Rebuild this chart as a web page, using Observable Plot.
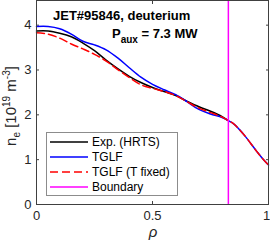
<!DOCTYPE html>
<html>
<head>
<meta charset="utf-8">
<script src="https://cdn.jsdelivr.net/npm/d3@7"></script>
<script src="https://cdn.jsdelivr.net/npm/@observablehq/plot@0.6"></script>
<style>
  html, body { margin: 0; padding: 0; background: #fff; }
  #wrap { position: relative; width: 270px; height: 240px; font-family: "Liberation Sans", Arial, sans-serif; overflow: hidden; }
  .abs { position: absolute; white-space: nowrap; }
  .title { font-weight: bold; font-size: 13px; color: #000; line-height: 1; }
  #legend { position: absolute; left: 46px; top: 132px; width: 130px; height: 62px; border: 1px solid #8c8c8c; background: #fff; }
  .row { position: absolute; left: 3px; height: 15px; display: flex; align-items: center; font-size: 12px; color: #000; }
  .row svg { margin-right: 4px; }
  #ylab { font-size: 15px; color: #262626; transform: translate(-50%, -50%) rotate(-90deg); line-height: 1; }
  #ylab sub, #ylab sup { font-size: 10px; line-height: 0; }
  #xlab { font-size: 15px; font-style: italic; color: #262626; transform: translate(-50%, -50%); line-height: 1; }
</style>
</head>
<body>
<div id="wrap"></div>
<script>
// ---- data ----
const rho      = [0, 0.05, 0.1, 0.15, 0.2, 0.25, 0.3, 0.35, 0.4, 0.45, 0.5, 0.55, 0.6, 0.65, 0.7, 0.75, 0.8, 0.827];
const expHRTS  = [3.87, 3.87, 3.82, 3.74, 3.60, 3.43, 3.22, 3.03, 2.86, 2.72, 2.61, 2.52, 2.43, 2.30, 2.18, 2.08, 1.96, 1.87];
const tglf     = [3.97, 3.97, 3.92, 3.80, 3.64, 3.56, 3.45, 3.27, 3.05, 2.84, 2.68, 2.56, 2.45, 2.29, 2.12, 2.02, 1.94, 1.87];
const tglfFix  = [3.83, 3.80, 3.71, 3.58, 3.47, 3.35, 3.20, 3.01, 2.83, 2.67, 2.59, 2.52, 2.43, 2.29, 2.15, 2.05, 1.95, 1.87];
const rhoEdge  = [0.85, 0.875, 0.9, 0.925, 0.95, 0.975, 1.0];
const neEdge   = [1.80, 1.67, 1.52, 1.35, 1.18, 1.02, 0.88];
const boundary = 0.827;
const xTicks = [0, 0.5, 1];
const yTicks = [0, 1, 2, 3, 4];
const seriesNames = ["Exp. (HRTS)", "TGLF", "TGLF (T fixed)", "Boundary"];
const seriesColors = ["#000000", "#0000ff", "#ff0000", "#ff00ff"];

const core = (vals) => rho.map((r, i) => ({rho: r, ne: vals[i]}));
const edge = rhoEdge.map((r, i) => ({rho: r, ne: neEdge[i]}));
const expRows = core(expHRTS);
const tglfRows = core(tglf).concat(edge);
const fixRows = core(tglfFix).concat(edge);

const axisColor = "#404040";
const chart = Plot.plot({
  width: 270,
  height: 240,
  marginLeft: 36,
  marginRight: 2,
  marginTop: 0,
  marginBottom: 36,
  x: {domain: [0, 1]},
  y: {domain: [0, 4.55]},
  style: {fontFamily: "Liberation Sans, Arial, sans-serif", fontSize: "13px", color: "#262626", background: "#fff"},
  marks: [
    Plot.axisX({ticks: xTicks.slice(0, 2), tickSize: 0, tickPadding: 6, tickFormat: d => String(d), label: null, fontSize: 13, fill: "#262626"}),
    Plot.axisX({ticks: xTicks.slice(2), tickSize: 0, tickPadding: 6, dx: -2, tickFormat: d => String(d), label: null, fontSize: 13, fill: "#262626"}),
    Plot.axisY({ticks: yTicks, tickSize: 0, tickPadding: 5, tickFormat: d => String(d), label: null, fontSize: 13, fill: "#262626"}),
    Plot.axisX({ticks: xTicks, anchor: "bottom", tickSize: 3, dy: -3, tickFormat: () => "", label: null, stroke: axisColor}),
    Plot.axisX({ticks: xTicks, anchor: "top", tickSize: 3, dy: 3, tickFormat: () => "", label: null, stroke: axisColor}),
    Plot.axisY({ticks: yTicks, anchor: "left", tickSize: 3, dx: 3, tickFormat: () => "", label: null, stroke: axisColor}),
    Plot.axisY({ticks: yTicks, anchor: "right", tickSize: 3, dx: -3, tickFormat: () => "", label: null, stroke: axisColor}),
    Plot.line(expRows, {x: "rho", y: "ne", stroke: seriesColors[0], strokeWidth: 1.5, curve: "catmull-rom"}),
    Plot.line(tglfRows, {x: "rho", y: "ne", stroke: seriesColors[1], strokeWidth: 1.5, curve: "catmull-rom"}),
    Plot.line(fixRows, {x: "rho", y: "ne", stroke: seriesColors[2], strokeWidth: 1.5, strokeDasharray: "8,4", curve: "catmull-rom"}),
    Plot.ruleX([boundary], {stroke: seriesColors[3], strokeWidth: 1.5}),
    Plot.frame({stroke: axisColor, strokeWidth: 1})
  ]
});

const wrap = document.getElementById("wrap");
chart.style.position = "absolute";
chart.style.left = "0px";
chart.style.top = "0px";
wrap.appendChild(chart);

function addDiv(html, cls, css) {
  const d = document.createElement("div");
  d.className = "abs " + cls;
  d.innerHTML = html;
  Object.assign(d.style, css);
  wrap.appendChild(d);
  return d;
}
addDiv("JET#95846, deuterium", "title", {left: "53px", top: "9px"});
addDiv('P<span style="font-size:10px;position:relative;top:5px;">aux</span> = 7.3 MW', "title", {left: "112px", top: "27px"});
const ylab = document.createElement("div");
ylab.id = "ylab"; ylab.className = "abs";
ylab.innerHTML = 'n<sub>e</sub> [10<sup>19</sup> m<sup>-3</sup>]';
Object.assign(ylab.style, {left: "10px", top: "106px"});
wrap.appendChild(ylab);
const xlab = document.createElement("div");
xlab.id = "xlab"; xlab.className = "abs";
xlab.textContent = "ρ";
Object.assign(xlab.style, {left: "153px", top: "231px"});
wrap.appendChild(xlab);

// legend
const leg = document.createElement("div");
leg.id = "legend";
seriesNames.forEach((name, i) => {
  const row = document.createElement("div");
  row.className = "row";
  row.style.top = (1 + i * 15) + "px";
  const dash = i === 2 ? 'stroke-dasharray="8,4"' : '';
  row.innerHTML = `<svg width="38" height="4"><line x1="0" y1="2" x2="38" y2="2" stroke="${seriesColors[i]}" stroke-width="1.5" ${dash}/></svg><span>${name}</span>`;
  leg.appendChild(row);
});
wrap.appendChild(leg);
</script>
</body>
</html>
